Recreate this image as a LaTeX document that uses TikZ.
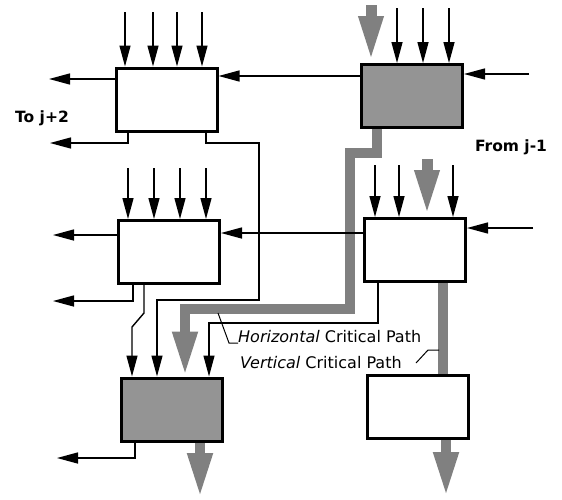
\documentclass[tikz,border=0pt]{standalone}
\usepackage{fontspec}
\setmainfont{DejaVu Sans}
\usetikzlibrary{arrows.meta,calc,backgrounds}
\definecolor{shade}{gray}{0.58}
\definecolor{cpath}{gray}{0.5}
\begin{document}
\begin{tikzpicture}[x=1pt,y=-1pt,
  block/.style={draw,line width=3pt,minimum width=101pt,minimum height=63pt,inner sep=0pt},
  shaded/.style={block,fill=shade},
  wire/.style={line width=1.4pt},
  arr/.style={wire,-{Triangle[length=21pt,width=11pt]}},
  leader/.style={line width=1pt},
  crit/.style={draw=cpath,line width=10pt},
  critarr/.style={crit,-{Triangle[length=45pt,width=23pt]}},
  critin/.style={draw=cpath,line width=11pt,-{Triangle[length=47pt,width=22pt]}},
  lbl/.style={font=\fontsize{16}{18}\selectfont,inner sep=0pt},
  blbl/.style={font=\fontsize{15.5}{18}\selectfont\bfseries,inner sep=0pt}]
\useasboundingbox (0,0) rectangle (562,499);

% blocks
\node[block]  (A) at (166.5,99.5) {};
\node[shaded] (B) at (412,96) {};
\node[block]  (C) at (169,252) {};
\node[block]  (D) at (415,250) {};
\node[shaded] (E) at (172,409.5) {};
\node[block]  (F) at (418,406.5) {};

% free ends and bend points
\coordinate (oa1) at (49,79);
\coordinate (hBA) at (300,76);
\coordinate (pa) at (128,143);
\coordinate (oa2) at (50,143);
\coordinate (q1) at (206,143);
\coordinate (q2) at (259,300);
\coordinate (q3) at (157,300);
\coordinate (ib) at (529,74);
\coordinate (gb) at (371,5);
\coordinate (h1) at (377,153);
\coordinate (h2) at (350,309);
\coordinate (h3) at (185,309);
\coordinate (oc1) at (53,235);
\coordinate (hDC) at (300,233);
\coordinate (pc) at (133,301);
\coordinate (oc2) at (53,301);
\coordinate (r1) at (144,313);
\coordinate (r2) at (132,327);
\coordinate (id) at (533,228);
\coordinate (gd) at (427,159);
\coordinate (s1) at (378,323);
\coordinate (s2) at (209,323);
\coordinate (v1) at (443,300);
\coordinate (fo) at (446,497);
\coordinate (eo) at (200,498);
\coordinate (pe) at (135,458);
\coordinate (oe) at (57,458);

% critical paths (behind)
\begin{scope}[on background layer]
\fill[white] (0,0) rectangle (562,499);
\draw[critin] (gb) -- (gb |- B.north);
\draw[critin] (gd) -- (gd |- D.north);
\draw[critarr] (h1 |- B.south) -- (h1) -| (h2) -- (h3) -- (h3 |- E.north);
\draw[crit] (v1 |- D.south) -- (v1 |- F.north);
\draw[critarr] (fo |- F.south) -- (fo);
\draw[critarr] (eo |- E.south) -- (eo);
\end{scope}

% top inputs
\foreach \x [count=\i] in {125,153,177,202} {\coordinate (ta\i) at (\x,12); \draw[arr] (ta\i) -- (ta\i |- A.north);}
\foreach \x [count=\i] in {397,423,449} {\coordinate (tb\i) at (\x,8); \draw[arr] (tb\i) -- (tb\i |- B.north);}
\foreach \x [count=\i] in {128,154,180,206} {\coordinate (tc\i) at (\x,168); \draw[arr] (tc\i) -- (tc\i |- C.north);}
\foreach \x [count=\i] in {375,399,453} {\coordinate (td\i) at (\x,165); \draw[arr] (td\i) -- (td\i |- D.north);}

% horizontal links
\draw[arr] (A.west |- oa1) -- (oa1);
\draw[arr] (B.west |- hBA) -- (A.east |- hBA);
\draw[arr] (ib) -- (B.east |- ib);
\draw[arr] (C.west |- oc1) -- (oc1);
\draw[arr] (D.west |- hDC) -- (C.east |- hDC);
\draw[arr] (id) -- (D.east |- id);

% lower links
\draw[arr] (pa |- A.south) -- (pa) -- (oa2);
\draw[arr] (q1 |- A.south) -- (q1) -| (q2) -- (q3) -- (q3 |- E.north);
\draw[arr] (pc |- C.south) -- (pc) -- (oc2);
\draw[arr] (r1 |- C.south) -- (r1) -- (r2) -- (r2 |- E.north);
\draw[arr] (s1 |- D.south) -- (s1) -- (s2) -- (s2 |- E.north);
\draw[arr] (pe |- E.south) -- (pe) -- (oe);

% labels
\node[blbl] (to) at (42,118) {To j+2};
\node[blbl] (from) at (511,147) {From j-1};
\node[lbl,anchor=south west] (hl) at (238,343) {\textit{Horizontal} Critical Path};
\node[lbl,anchor=south west] (vl) at (240,369) {\textit{Vertical} Critical Path};
\coordinate (hk) at (229,343);
\coordinate (ht) at (218,313);
\draw[leader] (hl.south west) -- (hk) -- (ht);
\coordinate (vk1) at (416,363);
\coordinate (vk2) at (428,350);
\coordinate (vk3) at (439,350);
\draw[leader] (vk1) -- (vk2) -- (vk3);
\end{tikzpicture}
\end{document}
